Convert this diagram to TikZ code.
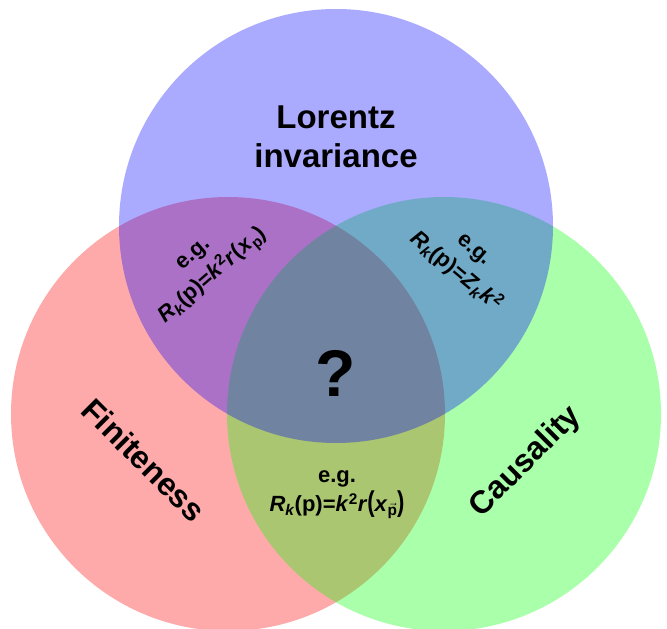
\documentclass[tikz,border=0pt]{standalone}
\usepackage{fontspec}
\setmainfont{Liberation Sans}
\newcommand{\lowidx}[1]{\raisebox{-0.35ex}{\scalebox{0.7}{#1}}}
\tikzset{
    setfill/.style = {fill = #1, fill opacity = 0.333},
    bigtitle/.style = {font = \bfseries\fontsize{33}{39}\selectfont, align = center},
    sidetitle/.style = {font = \bfseries\fontsize{32}{37}\selectfont},
    example/.style = {font = \bfseries\fontsize{22}{29}\selectfont, align = center}
}
\begin{document}
\begin{tikzpicture}[x = 1pt, y = -1pt]
        \useasboundingbox (0, 0) rectangle (667, 629);
        \fill [setfill = red] (228, 414) circle [radius = 217pt];
        \fill [setfill = green] (444, 414) circle [radius = 217pt];
        \fill [setfill = blue] (336, 226) circle [radius = 217pt];
        \node [bigtitle] (lorentz) at (336, 137) {Lorentz\\invariance};
        \node [sidetitle, rotate = -45] (finite) at (144, 460) {Finiteness};
        \node [sidetitle, rotate = 45] (causal) at (526, 462) {Causality};
        \node [font = \bfseries\fontsize{66}{70}\selectfont] (open) at (336, 373) {?};
        \node [example, rotate = 41] (lf) at (205, 267)
            {e.g.\\\textit{R}\lowidx{\textit{k}}(p)=\textit{k}\textsuperscript{2}\textit{r}(\textit{x}\lowidx{p})};
        \node [example, rotate = -40] (lc) at (464, 262)
            {e.g.\\\textit{R}\lowidx{\textit{k}}(p)=\textit{Z}\lowidx{\textit{k}}\textit{k}\textsuperscript{2}};
        \node [example] (fc) at (337, 495)
            {e.g.\\\textit{R}\lowidx{\textit{k}}(p)=\textit{k}\textsuperscript{2}\textit{r}\scalebox{1}[1.3]{(}\textit{x}\lowidx{$\vec{\mbox{p}}$}\scalebox{1}[1.3]{)}};
    \end{tikzpicture}
\end{document}
